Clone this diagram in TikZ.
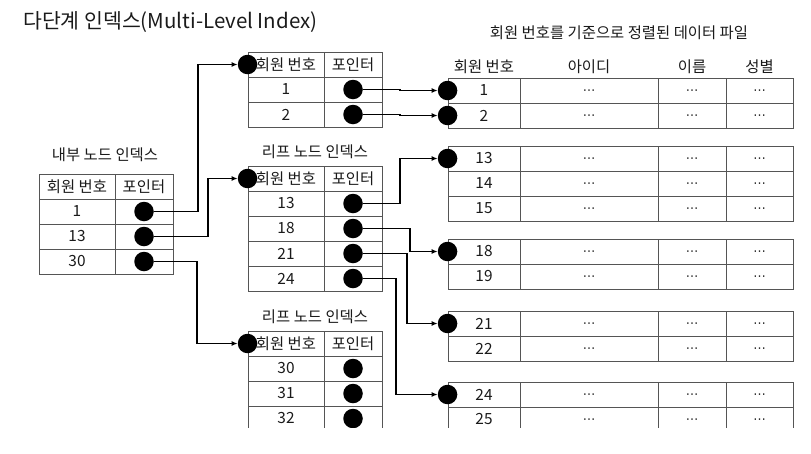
\documentclass[tikz,border=0pt]{standalone}
\usepackage{fontspec}
\setmainfont{Noto Sans CJK KR}
\newfontfamily\djv{DejaVu Sans}
\usetikzlibrary{arrows.meta}
\definecolor{linec}{HTML}{555555}
\definecolor{txt}{HTML}{1A1A1A}
\newcommand{\mydots}{\raisebox{-4pt}[0pt][0pt]{\djv\fontsize{12.5pt}{14pt}\selectfont ⋯}}
\tikzset{
 cell/.style={draw=linec, line width=0.9pt, minimum height=25pt, inner sep=0pt, text=txt, font=\fontsize{15.4pt}{17pt}\selectfont},
 dot/.style={circle, fill=black, minimum size=19.5pt, inner sep=0pt},
 link/.style={line width=1.2pt, -{Latex[length=6pt,width=5pt]}},
 lbl/.style={text=txt, font=\fontsize{15.4pt}{17pt}\selectfont, inner sep=0pt},
}
\begin{document}
\begin{tikzpicture}[x=1pt,y=-1pt]
\useasboundingbox (0,0) rectangle (811,453);
\begin{scope}
\clip (0,0) rectangle (811,427);
% title
\node[anchor=west, text=txt, inner sep=0pt, font=\fontsize{20.5pt}{22pt}\selectfont] (title) at (23,22) {다단계 인덱스(Multi-Level Index)};
% internal node index
\node[lbl] (ilbl) at (105,155) {내부 노드 인덱스};
\node[cell, minimum width=76pt] (ih1) at (77,186.5) {회원 번호};
\node[cell, minimum width=58pt] (ih2) at (144,186.5) {포인터};
\foreach \nm/\y/\v in {i1/211.5/1, i13/236.5/13, i30/261.5/30}{
  \node[cell, minimum width=76pt] (\nm) at (77,\y) {\v};
  \node[cell, minimum width=58pt] (\nm p) at (144,\y) {};
  \node[dot] (\nm d) at (144,\y) {};
}
% leaf 1
\node[cell, minimum width=76pt] (ah1) at (286,64.5) {회원 번호};
\node[cell, minimum width=58pt] (ah2) at (353,64.5) {포인터};
\node[dot] (ahc) at (ah1.west) {};
% leaf 2
\node[lbl] (blbl) at (315,152) {리프 노드 인덱스};
\node[cell, minimum width=76pt] (bh1) at (286,178.5) {회원 번호};
\node[cell, minimum width=58pt] (bh2) at (353,178.5) {포인터};
\node[dot] (bhc) at (bh1.west) {};
% leaf 3
\node[lbl] (clbl) at (315,317) {리프 노드 인덱스};
\node[cell, minimum width=76pt] (ch1) at (286,343.5) {회원 번호};
\node[cell, minimum width=58pt] (ch2) at (353,343.5) {포인터};
\node[dot] (chc) at (ch1.west) {};
\foreach \nm/\y/\v in {l1/89.5/1, l2/114.5/2, l13/203.5/13, l18/228.5/18, l21/253.5/21, l24/278.5/24, l30/368.5/30, l31/393.5/31, l32/418.5/32}{
  \node[cell, minimum width=76pt] (\nm) at (286,\y) {\v};
  \node[cell, minimum width=58pt] (\nm p) at (353,\y) {};
  \node[dot] (\nm d) at (353,\y) {};
}
% data file
\node[lbl] (dlbl) at (619,33) {회원 번호를 기준으로 정렬된 데이터 파일};
\node[lbl] (dh1) at (484,67) {회원 번호};
\node[lbl] (dh2) at (589,67) {아이디};
\node[lbl] (dh3) at (692,67) {이름};
\node[lbl] (dh4) at (759.5,67) {성별};
\foreach \nm/\y/\v in {d1/90.5/1, d2/115.5/2, d13/158.5/13, d14/183.5/14, d15/208.5/15, d18/251.5/18, d19/276.5/19, d21/323.5/21, d22/348.5/22, d24/394.5/24, d25/419.5/25}{
  \node[cell, minimum width=72pt] (\nm) at (484,\y) {\v};
  \node[cell, minimum width=138pt] (\nm a) at (589,\y) {\mydots};
  \node[cell, minimum width=68pt] (\nm b) at (692,\y) {\mydots};
  \node[cell, minimum width=67pt] (\nm c) at (759.5,\y) {\mydots};
}
\foreach \nm in {d1,d2,d13,d18,d21,d24}{
  \node[dot] (\nm d) at (\nm.west) {};
}
% connectors internal -> leaf
\draw[link] (i1d) -- ++(54,0) |- (ahc);
\draw[link] (i13d) -- ++(64,0) |- (bhc);
\draw[link] (i30d) -- ++(53,0) |- (chc);
% connectors leaf -> data
\draw[link] (l1d) -- ++(47,0) |- (d1d);
\draw[link] (l2d) -- ++(47,0) |- (d2d);
\draw[link] (l13d) -- ++(47,0) |- (d13d);
\draw[link] (l18d) -- ++(57,0) |- (d18d);
\draw[link] (l21d) -- ++(54,0) |- (d21d);
\draw[link] (l24d) -- ++(43,0) |- (d24d);
\end{scope}
\end{tikzpicture}
\end{document}
